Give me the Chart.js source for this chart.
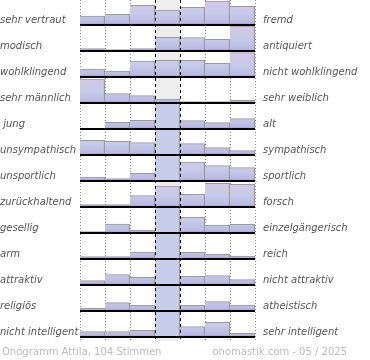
<!DOCTYPE html>
<html lang="de">
<head>
  <meta charset="UTF-8" />
  <title>Onogramm Attila</title>
  <script src="https://cdn.jsdelivr.net/npm/chart.js"></script>
  <style>
    body {
      margin: 0;
      background: #fff;
      font-family: 'DejaVu Sans', sans-serif;
    }
    .wrap {
      position: relative;
      width: 370px;
      height: 360px;
    }
    .foot {
      position: absolute;
      top: 346px;
      font-size: 10px;
      color: #bbb;
      white-space: nowrap;
    }
    .foot.left { left: 2px; }
    .foot.right { right: 23px; }
  </style>
</head>
<body>

<div class="wrap">
  <canvas id="onogramm" width="370" height="360"></canvas>
  <div class="foot left">Onogramm Attila, 104 Stimmen</div>
  <div class="foot right">onomastik.com - 05 / 2025</div>
</div>

<script>
// row height in value units (one unit = one pixel at this size)
const ROW = 26;

const leftLabels = ['sehr vertraut', 'modisch', 'wohlklingend', 'sehr männlich', ' jung', 'unsympathisch',
  'unsportlich', 'zurückhaltend', 'gesellig', 'arm', 'attraktiv', 'religiös', 'nicht intelligent'];
const rightLabels = ['fremd', 'antiquiert', 'nicht wohlklingend', 'sehr weiblich', 'alt', 'sympathisch',
  'sportlich', 'forsch', 'einzelgängerisch', 'reich', 'nicht attraktiv', 'atheistisch', 'sehr intelligent'];
const columns = ['-3', '-2', '-1', '0', '1', '2', '3'];

// bar heights per row, 26 = full row (middle bars at 26 are cut off)
const vertraut     = [9, 10.7, 19.7, 15, 17.7, 24, 18.7];
const modisch      = [2.3, 1.3, 2.3, 13.7, 13.3, 11.7, 25];
const wohlklingend = [8, 6, 16, 16.7, 16.7, 13.7, 24.3];
const maennlich    = [24, 9.3, 7.3, 4, 1.5, 1.5, 2.7];
const jung         = [0, 6.7, 8.7, 26, 8.3, 6.3, 10.3];
const unsympathisch = [14.7, 13.7, 12.3, 26, 11.3, 7.3, 4.3];
const unsportlich  = [4, 2.3, 7.7, 26, 19, 15.3, 13.3];
const zurueck      = [2.3, 2.3, 11.3, 21, 12.7, 23.7, 22.7];
const gesellig     = [1.3, 9, 3, 26, 15.7, 8, 8.7];
const arm          = [2.3, 2.3, 7, 26, 6.7, 4.7, 3];
const attraktiv    = [4.3, 10.3, 7.7, 26, 8.7, 9.3, 5.3];
const religioes    = [3, 8.3, 5.7, 26, 5.7, 9.3, 6];
const intelligent  = [5.3, 5.3, 6.7, 26, 10.3, 14.7, 3.7];

const rows = [vertraut, modisch, wohlklingend, maennlich, jung, unsympathisch, unsportlich,
  zurueck, gesellig, arm, attraktiv, religioes, intelligent];

const N = rows.length;
const baseOf = i => (N - 1 - i) * ROW;
const rowOf = v => N - 1 - Math.round((v - 5) / ROW);
const isFull = raw => raw && raw[1] - raw[0] >= ROW;

function barColor(ctx, base) {
  const chart = ctx.chart;
  if (!chart.chartArea) return '#c6cbe9';
  if (isFull(ctx.raw)) return '#c6cde9';
  const y = chart.scales.y;
  const g = chart.ctx.createLinearGradient(0, y.getPixelForValue(base), 0, y.getPixelForValue(base + ROW));
  g.addColorStop(0, '#a496cc');
  g.addColorStop(0.1, '#bbbbe2');
  g.addColorStop(0.45, '#c6cbe9');
  g.addColorStop(0.75, '#d0c8e8');
  g.addColorStop(1, '#dec3e3');
  return g;
}

const datasets = rows.map((vals, i) => {
  const base = baseOf(i);
  return {
    label: leftLabels[i],
    data: vals.map(h => h > 0 ? [base, base + h] : null),
    grouped: false,
    barPercentage: 1,
    categoryPercentage: 1,
    borderSkipped: false,
    borderWidth: ctx => ({top: isFull(ctx.raw) ? 0 : 1, right: 1.5, bottom: 0, left: 0}),
    borderColor: '#9a9a9a',
    backgroundColor: ctx => barColor(ctx, base)
  };
});

const columnLines = {
  id: 'columnLines',
  beforeDatasetsDraw(chart) {
    const {ctx, scales: {x}} = chart;
    const half = (x.getPixelForValue(1) - x.getPixelForValue(0)) / 2;
    const mid = x.getPixelForValue(3);
    ctx.save();
    ctx.fillStyle = '#eeeeee';
    ctx.fillRect(mid - half, 0, half * 2, 341);
    ctx.strokeStyle = '#8a8a8a';
    ctx.lineWidth = 1;
    ctx.setLineDash([1, 2]);
    for (let i = 0; i <= columns.length; i++) {
      if (i === 3 || i === 4) continue;
      const px = Math.round(x.getPixelForValue(i) - half) + 0.5;
      ctx.beginPath();
      ctx.moveTo(px, 0);
      ctx.lineTo(px, 341);
      ctx.stroke();
    }
    ctx.restore();
  },
  afterDatasetsDraw(chart) {
    const {ctx, scales: {x}} = chart;
    const half = (x.getPixelForValue(1) - x.getPixelForValue(0)) / 2;
    const mid = x.getPixelForValue(3);
    ctx.save();
    ctx.strokeStyle = '#000';
    ctx.lineWidth = 1;
    ctx.setLineDash([3, 3]);
    [mid - half, mid + half].forEach(p => {
      const px = Math.round(p) + 0.5;
      ctx.beginPath();
      ctx.moveTo(px, 0);
      ctx.lineTo(px, 341);
      ctx.stroke();
    });
    ctx.restore();
  }
};

const labelFont = {family: 'DejaVu Sans', size: 10, style: 'italic'};
const labelTicks = scale => { scale.ticks = rows.map((_, i) => ({value: baseOf(i) + 5})); };
const noPad = scale => { scale.paddingTop = 0; scale.paddingBottom = 0; };

new Chart(document.getElementById('onogramm'), {
  type: 'bar',
  data: { labels: columns, datasets },
  plugins: [columnLines],
  options: {
    responsive: false,
    animation: false,
    layout: { padding: {top: 0, bottom: 360 - (N * ROW - 1), left: 0, right: 0} },
    plugins: { legend: { display: false }, tooltip: { enabled: false } },
    scales: {
      x: { display: false },
      y: {
        position: 'left',
        min: 0, max: N * ROW - 1,
        grid: { display: false, drawTicks: false },
        border: { display: false },
        afterBuildTicks: labelTicks,
        afterFit: s => { s.width = 80; noPad(s); },
        ticks: {
          autoSkip: false, crossAlign: 'far', padding: 0,
          color: '#555', font: labelFont,
          callback: v => leftLabels[rowOf(v)]
        }
      },
      y2: {
        position: 'right',
        min: 0, max: N * ROW - 1,
        grid: { display: false, drawTicks: false },
        border: { display: false },
        afterBuildTicks: labelTicks,
        afterFit: s => { s.width = 115; noPad(s); },
        ticks: {
          autoSkip: false, crossAlign: 'near', padding: 8,
          color: '#555', font: labelFont,
          callback: v => rightLabels[rowOf(v)]
        }
      },
      yBase: {
        position: 'left',
        min: 0, max: N * ROW - 1,
        grid: { color: '#000', lineWidth: 2, drawTicks: false, z: 1 },
        border: { display: false },
        afterBuildTicks: s => { s.ticks = rows.map((_, i) => ({value: baseOf(i)})); },
        afterFit: s => { s.width = 0; noPad(s); },
        ticks: { display: false }
      }
    }
  }
});
</script>

</body>
</html>
